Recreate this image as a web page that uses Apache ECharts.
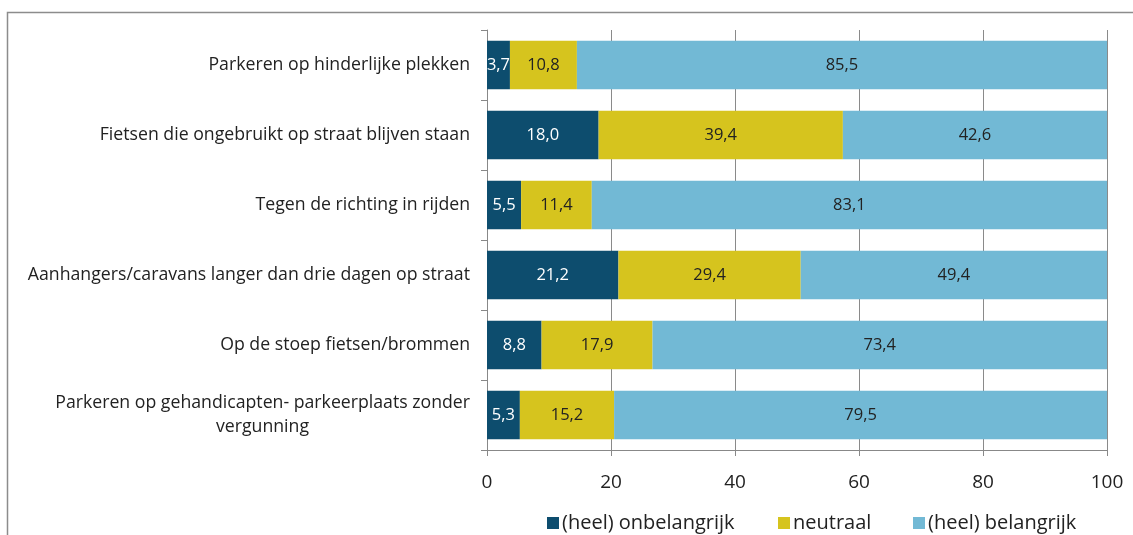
<!DOCTYPE html>
<html>
<head>
<meta charset="utf-8">
<script src="https://cdn.jsdelivr.net/npm/echarts@6/dist/echarts.min.js"></script>
<style>
  html, body { margin: 0; padding: 0; background: #fff; }
  #chart { width: 1133px; height: 535px; }
</style>
</head>
<body>
<div id="chart"></div>
<script>
const categories = [
  'Parkeren op hinderlijke plekken',
  'Fietsen die ongebruikt op straat blijven staan',
  'Tegen de richting in rijden',
  'Aanhangers/caravans langer dan drie dagen op straat',
  'Op de stoep fietsen/brommen',
  'Parkeren op gehandicapten- parkeerplaats zonder\nvergunning'
];
const onbelangrijk = [3.7, 18.0, 5.5, 21.2, 8.8, 5.3];
const neutraal = [10.8, 39.4, 11.4, 29.4, 17.9, 15.2];
const belangrijk = [85.5, 42.6, 83.1, 49.4, 73.4, 79.5];
const seriesNames = ['(heel) onbelangrijk', 'neutraal', '(heel) belangrijk'];

const font = '"Open Sans", "Noto Sans", sans-serif';
const labelSize = 17.7;
const fmt = p => p.value.toFixed(1).replace('.', ',');

// wrapped labels: lines are right-aligned, so a spacer after a short line centres it
const ctx = document.createElement('canvas').getContext('2d');
ctx.font = labelSize + 'px ' + font;
const labelRich = {};
function wrapLabel(v) {
  const lines = v.split('\n');
  if (lines.length < 2) return v;
  const widths = lines.map(s => ctx.measureText(s).width);
  const maxW = Math.max(...widths);
  return lines.map((s, i) => {
    const pad = Math.round((maxW - widths[i]) / 2);
    if (pad < 2) return '{t|' + s + '}';
    labelRich['s' + pad] = { width: pad, fontSize: labelSize, lineHeight: 24 };
    return '{t|' + s + '}{s' + pad + '| }';
  }).join('\n');
}
categories.forEach(wrapLabel);
labelRich.t = { fontFamily: font, fontSize: labelSize, color: '#222', lineHeight: 24 };

function barSeries(name, data, color, labelColor) {
  return {
    name: name,
    type: 'bar',
    stack: 'total',
    data: data,
    barCategoryGap: '31%',
    itemStyle: { color: color },
    label: {
      show: true,
      position: 'inside',
      formatter: fmt,
      color: labelColor,
      fontFamily: font,
      fontSize: 16.5
    }
  };
}

function legendAt(name, left) {
  return {
    data: [name],
    top: 508,
    left: left,
    itemWidth: 12,
    itemHeight: 12,
    icon: 'rect',
    textStyle: { fontFamily: font, fontSize: 20, color: '#222', padding: [0, 0, 0, -2] }
  };
}

const chart = echarts.init(document.getElementById('chart'));
chart.setOption({
  animation: false,
  backgroundColor: '#fff',
  graphic: [{
    type: 'rect',
    shape: { x: 7.5, y: 12.5, width: 1140, height: 540 },
    style: { fill: 'none', stroke: '#8c8c8c', lineWidth: 1.5 },
    silent: true
  }],
  grid: { left: 487, right: 26, top: 30, bottom: 85 },
  legend: [
    legendAt(seriesNames[0], 542),
    legendAt(seriesNames[1], 773),
    legendAt(seriesNames[2], 908)
  ],
  xAxis: {
    type: 'value',
    min: 0,
    max: 100,
    interval: 20,
    axisLine: { show: true, lineStyle: { color: '#888' } },
    axisTick: { show: true, length: 6, lineStyle: { color: '#888' } },
    splitLine: { show: true, lineStyle: { color: '#8a8a8a', width: 1 } },
    axisLabel: { fontFamily: font, fontSize: 19, color: '#222', margin: 23 }
  },
  yAxis: {
    type: 'category',
    inverse: true,
    data: categories,
    axisLine: { show: true, lineStyle: { color: '#888' } },
    axisTick: { show: true, length: 6, lineStyle: { color: '#888' } },
    axisLabel: {
      fontFamily: font,
      fontSize: labelSize,
      color: '#222',
      margin: 17,
      lineHeight: 24,
      formatter: wrapLabel,
      rich: labelRich
    }
  },
  series: [
    barSeries(seriesNames[0], onbelangrijk, '#0d4d6e', '#ffffff'),
    barSeries(seriesNames[1], neutraal, '#d6c41e', '#222222'),
    barSeries(seriesNames[2], belangrijk, '#72b9d5', '#222222')
  ]
});
</script>
</body>
</html>
